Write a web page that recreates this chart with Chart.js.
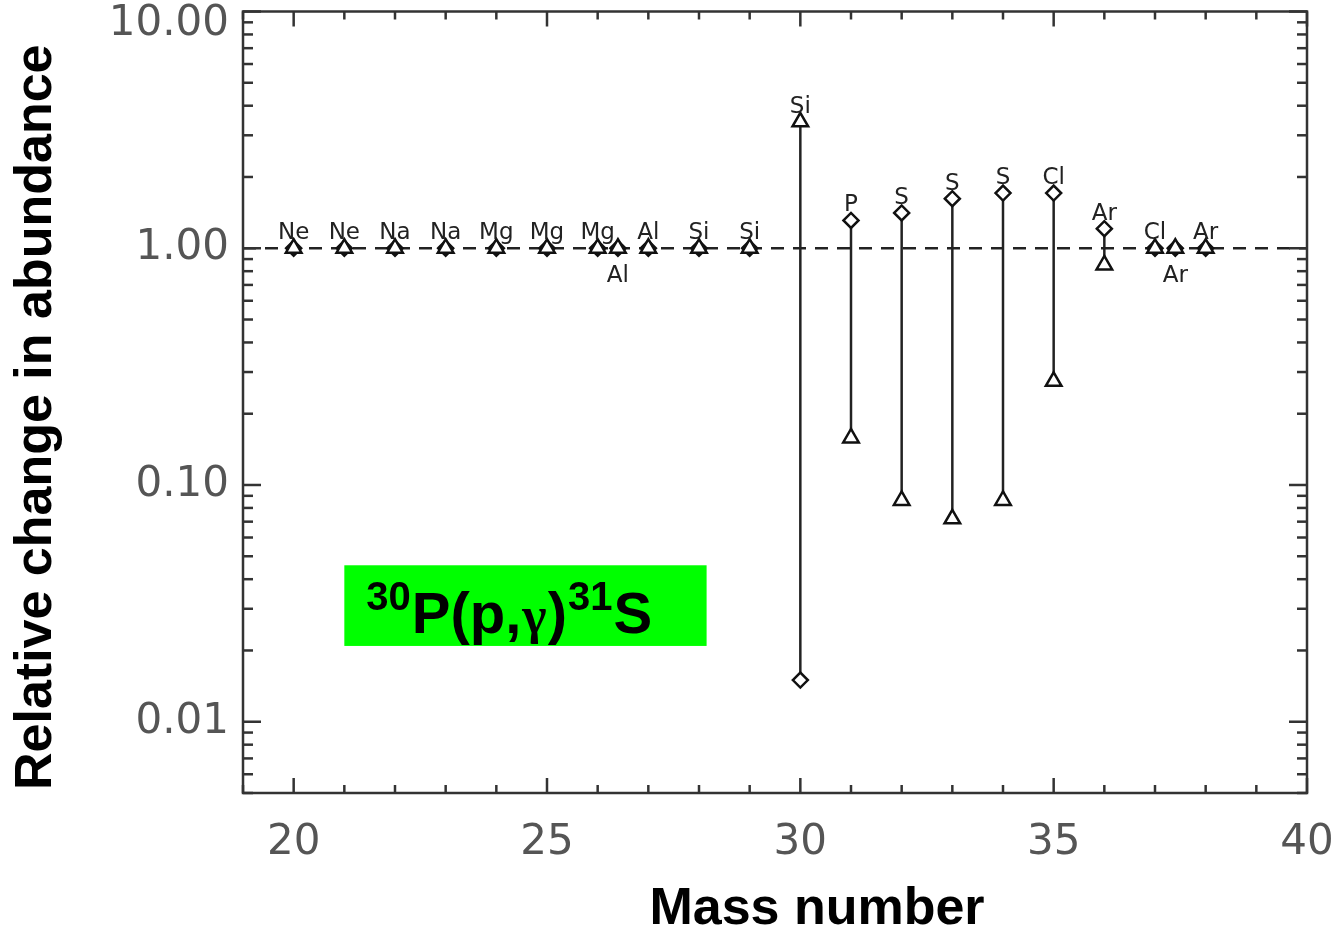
<!DOCTYPE html>
<html>
<head>
<meta charset="utf-8">
<script src="https://cdn.jsdelivr.net/npm/chart.js@4.4.1/dist/chart.umd.min.js"></script>
<style>
  html, body { margin: 0; padding: 0; background: #fff; }
  #wrap { width: 1336px; height: 931px; }
</style>
</head>
<body>
<div id="wrap"><canvas id="abundance"></canvas></div>
<script>
// isotopes, by mass number (26.4 / 37.4 are 26Al and 37Ar drawn just off their neighbours)
const massNumber = [20, 21, 22, 23, 24, 25, 26, 26.4, 27, 28, 29, 30, 31, 32, 33, 34, 35, 36, 37, 37.4, 38];
const element = ['Ne', 'Ne', 'Na', 'Na', 'Mg', 'Mg', 'Mg', 'Al', 'Al', 'Si', 'Si', 'Si', 'P', 'S', 'S', 'S', 'Cl', 'Ar', 'Cl', 'Ar', 'Ar'];
// relative change in abundance, triangle case and diamond case
const triangleVals = [1, 1, 1, 1, 1, 1, 1, 1, 1, 1, 1, 3.42, 0.158, 0.086, 0.072, 0.086, 0.274, 0.85, 1, 1, 1];
const diamondVals = [1, 1, 1, 1, 1, 1, 1, 1, 1, 1, 1, 0.015, 1.31, 1.41, 1.62, 1.71, 1.71, 1.21, 1, 1, 1];
// labels printed under the marker instead of above
const labelBelow = [26.4, 37.4];

const xTicks = [20, 25, 30, 35, 40];
const yTicks = [0.01, 0.1, 1, 10];
const xMin = 19, xMax = 40;
const yMin = 0.005, yMax = 10;

const triPts = massNumber.map((m, i) => ({ x: m, y: triangleVals[i] }));
const diaPts = massNumber.map((m, i) => ({ x: m, y: diamondVals[i] }));
const connectorPts = [];
massNumber.forEach((m, i) => {
    if (triangleVals[i] !== diamondVals[i]) {
        connectorPts.push({ x: m, y: triangleVals[i] }, { x: m, y: diamondVals[i] }, { x: m, y: null });
    }
});

const axisFont = '42px "DejaVu Sans"';
const titleFont = 'bold 52px "Liberation Sans", Arial, sans-serif';

const idlAxes = {
    id: 'idlAxes',
    afterDatasetsDraw(chart) {
        const { ctx, chartArea: a, scales: { x, y } } = chart;
        ctx.save();

        // element names next to the markers
        ctx.font = '23px "DejaVu Sans"';
        ctx.fillStyle = '#222';
        ctx.textAlign = 'center';
        massNumber.forEach((m, i) => {
            const px = x.getPixelForValue(m);
            if (labelBelow.includes(m)) {
                ctx.textBaseline = 'top';
                ctx.fillText(element[i], px, y.getPixelForValue(Math.min(triangleVals[i], diamondVals[i])) + 16);
            } else {
                ctx.textBaseline = 'alphabetic';
                ctx.fillText(element[i], px, y.getPixelForValue(Math.max(triangleVals[i], diamondVals[i])) - 9);
            }
        });

        // frame
        ctx.strokeStyle = '#333';
        ctx.lineWidth = 2.5;
        ctx.strokeRect(a.left, a.top, a.width, a.height);

        const seg = (x1, y1, x2, y2) => {
            ctx.beginPath();
            ctx.moveTo(x1, y1);
            ctx.lineTo(x2, y2);
            ctx.stroke();
        };

        // inward ticks, all four sides
        for (let v = xMin; v <= xMax; v++) {
            const px = x.getPixelForValue(v);
            const len = v % 5 === 0 ? 15 : 8;
            seg(px, a.bottom, px, a.bottom - len);
            seg(px, a.top, px, a.top + len);
        }
        for (let d = -3; d <= 1; d++) {
            for (let k = 1; k <= 9; k++) {
                const v = k * Math.pow(10, d);
                if (v < yMin * 0.999 || v > yMax * 1.001) continue;
                const py = y.getPixelForValue(v);
                const len = k === 1 ? 18 : 10;
                seg(a.left, py, a.left + len, py);
                seg(a.right, py, a.right - len, py);
            }
        }

        // tick labels
        ctx.font = axisFont;
        ctx.fillStyle = '#555';
        ctx.textAlign = 'right';
        ctx.textBaseline = 'middle';
        yTicks.forEach(v => {
            let py = y.getPixelForValue(v);
            if (py < a.top + 12) py = a.top + 13;
            ctx.fillText(v.toFixed(2), a.left - 14, py);
        });
        ctx.textAlign = 'center';
        xTicks.forEach(v => {
            ctx.fillText(String(v), x.getPixelForValue(v), a.bottom + 50);
        });

        // axis titles
        ctx.font = titleFont;
        ctx.fillStyle = '#000';
        ctx.fillText('Mass number', (a.left + a.right) / 2 + 42, a.bottom + 117);
        ctx.save();
        ctx.translate(a.left - 206, (a.top + a.bottom) / 2 + 15);
        ctx.rotate(-Math.PI / 2);
        ctx.fillText('Relative change in abundance', 0, 0);
        ctx.restore();

        // reaction box
        const bx1 = x.getPixelForValue(21.0), bx2 = x.getPixelForValue(28.15);
        const by1 = y.getPixelForValue(0.0458), by2 = y.getPixelForValue(0.0209);
        ctx.fillStyle = '#00ff00';
        ctx.fillRect(bx1, by1, bx2 - bx1, by2 - by1);

        const parts = [
            { t: '30', f: 'bold 40px "Liberation Sans", Arial', dy: -23 },
            { t: 'P(p,', f: 'bold 58px "Liberation Sans", Arial', dy: 0 },
            { t: 'γ', f: 'bold 52px "Liberation Serif", serif', dy: 0 },
            { t: ')', f: 'bold 58px "Liberation Sans", Arial', dy: 0 },
            { t: '31', f: 'bold 40px "Liberation Sans", Arial', dy: -23 },
            { t: 'S', f: 'bold 58px "Liberation Sans", Arial', dy: 0 }
        ];
        ctx.fillStyle = '#000';
        ctx.textAlign = 'left';
        ctx.textBaseline = 'alphabetic';
        let tx = bx1 + 22;
        const base = by1 + 68;
        parts.forEach(p => {
            ctx.font = p.f;
            ctx.fillText(p.t, tx, base + p.dy);
            tx += ctx.measureText(p.t).width + 1;
        });

        ctx.restore();
    }
};

const ctx = document.getElementById('abundance').getContext('2d');
const abundanceChart = new Chart(ctx, {
    type: 'scatter',
    data: {
        datasets: [{
            label: 'triangle',
            data: triPts,
            pointStyle: 'triangle',
            pointRadius: 9,
            pointBorderWidth: 2.5,
            pointBackgroundColor: '#fff',
            pointBorderColor: '#111',
            showLine: false,
            order: 0
        }, {
            label: 'diamond',
            data: diaPts,
            pointStyle: 'rectRot',
            pointRadius: 7.5,
            pointBorderWidth: 2.5,
            pointBackgroundColor: '#fff',
            pointBorderColor: '#111',
            showLine: false,
            order: 1
        }, {
            label: 'range',
            data: connectorPts,
            showLine: true,
            spanGaps: false,
            borderColor: '#222',
            borderWidth: 2.5,
            pointRadius: 0,
            order: 2
        }, {
            label: 'unity',
            data: [{ x: xMin, y: 1 }, { x: xMax, y: 1 }],
            showLine: true,
            borderColor: '#222',
            borderWidth: 2.5,
            borderDash: [13, 9],
            pointRadius: 0,
            order: 3
        }]
    },
    options: {
        responsive: true,
        maintainAspectRatio: false,
        animation: false,
        layout: {
            padding: { left: 243, right: 29, top: 10, bottom: 138 }
        },
        plugins: {
            legend: { display: false },
            tooltip: { enabled: false }
        },
        scales: {
            x: { type: 'linear', min: xMin, max: xMax, display: false },
            y: { type: 'logarithmic', min: yMin, max: yMax, display: false }
        }
    },
    plugins: [idlAxes]
});
</script>
</body>
</html>
